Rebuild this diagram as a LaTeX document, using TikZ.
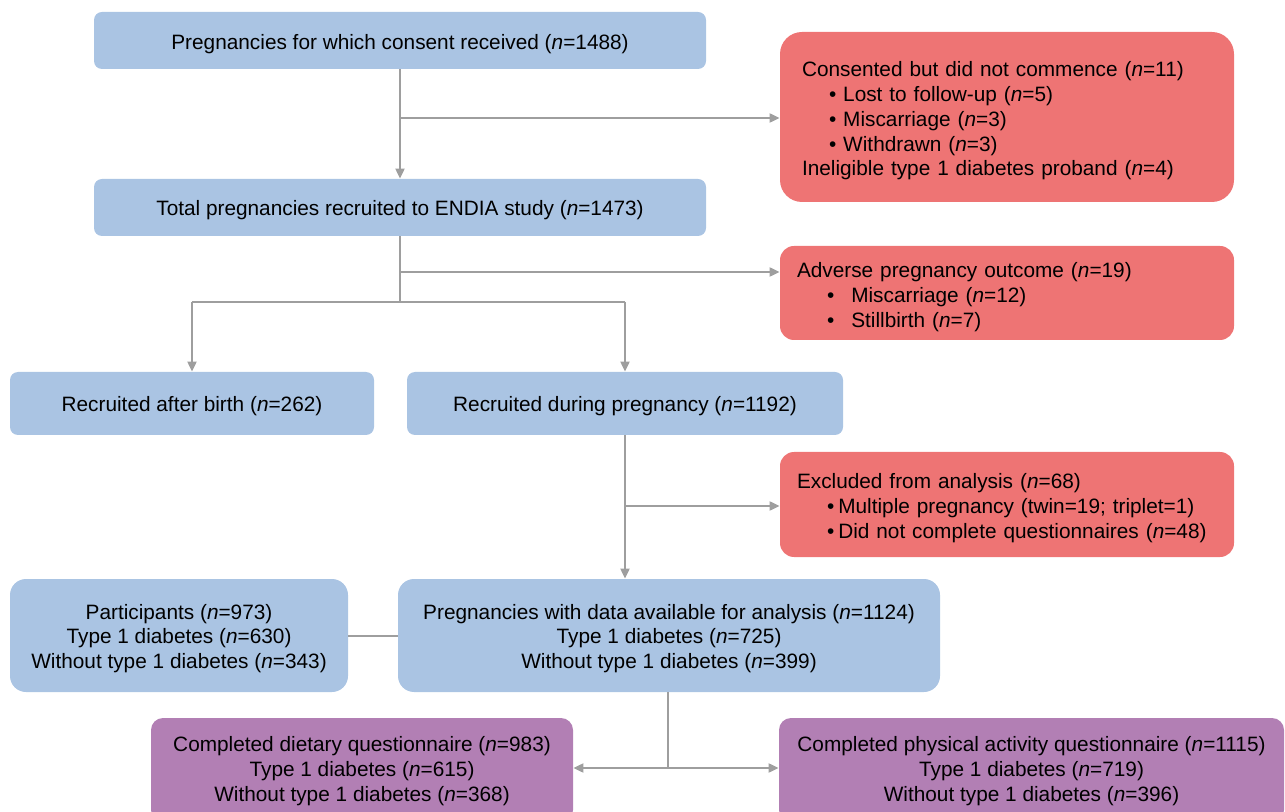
\documentclass[tikz,border=0pt]{standalone}
\usepackage{fontspec}
\setmainfont{Liberation Sans}
\usetikzlibrary{arrows.meta}
\definecolor{bluebox}{RGB}{170,196,227}
\definecolor{redbox}{RGB}{238,116,116}
\definecolor{purplebox}{RGB}{178,127,180}
\definecolor{linegray}{RGB}{158,158,158}
\begin{document}
\begin{tikzpicture}[x=0.5pt,y=-0.5pt,
  every node/.style={font=\fontsize{10.4}{12.4}\selectfont, inner sep=0pt},
  bbox/.style={fill=bluebox, rounded corners=4pt},
  bigbox/.style={fill=bluebox, rounded corners=8pt},
  rbox/.style={fill=redbox, minimum width=227pt},
  pbox/.style={fill=purplebox, rounded corners=6pt},
  ctext/.style={align=center},
  ltext/.style={align=left},
  conn/.style={draw=linegray, line width=1pt},
  arr/.style={conn, -{Triangle[length=5pt,width=4.5pt]}},
  darr/.style={conn, {Triangle[length=5pt,width=4.5pt]}-{Triangle[length=5pt,width=4.5pt]}}
]
\useasboundingbox (0,0) rectangle (1285,812);

% boxes
\node[bbox, minimum width=306pt, minimum height=28.5pt] (A) at (400,40.5) {};
\node[bbox, minimum width=306pt, minimum height=28.5pt] (B) at (400,207.5) {};
\node[rbox, rounded corners=11pt, minimum height=85pt] (R1) at (1007,117) {};
\node[rbox, rounded corners=7pt, minimum height=47pt] (R2) at (1007,293) {};
\node[bbox, minimum width=182pt, minimum height=31.5pt] (C) at (192,403.5) {};
\node[bbox, minimum width=218pt, minimum height=31.5pt] (D) at (625,403.5) {};
\node[rbox, rounded corners=7pt, minimum height=52.5pt] (R3) at (1007,504.5) {};
\node[bigbox, minimum width=271pt, minimum height=56.5pt] (E) at (669,635.5) {};
\node[bigbox, minimum width=169pt, minimum height=56.5pt] (F) at (179,635.5) {};
\node[pbox, minimum width=211pt, minimum height=52pt] (G) at (362,770) {};
\node[pbox, minimum width=252.5pt, minimum height=52pt] (H) at (1031.5,770) {};

% texts
\node[ctext] (tA) at ([yshift=-2pt]A.center)
  {Pregnancies for which consent received (\textit{n}=1488)};
\node[ctext] (tB) at ([yshift=-1.5pt]B.center)
  {Total pregnancies recruited to ENDIA study (\textit{n}=1473)};
\node[ltext, text width=205pt] (tR1) at ([yshift=-2pt]R1.center)
  {Consented but did not commence (\textit{n}=11)\\
   \hspace*{13.5pt}\textbullet\ Lost to follow-up (\textit{n}=5)\\
   \hspace*{13.5pt}\textbullet\ Miscarriage (\textit{n}=3)\\
   \hspace*{13.5pt}\textbullet\ Withdrawn (\textit{n}=3)\\
   Ineligible type 1 diabetes proband (\textit{n}=4)};
\node[ltext, text width=210pt] (tR2) at ([yshift=-2pt]R2.center)
  {Adverse pregnancy outcome (\textit{n}=19)\\
   \hspace*{15pt}\textbullet\hspace{8.5pt}Miscarriage (\textit{n}=12)\\
   \hspace*{15pt}\textbullet\hspace{8.5pt}Stillbirth (\textit{n}=7)};
\node[ctext] (tC) at ([yshift=-1.5pt]C.center)
  {Recruited after birth (\textit{n}=262)};
\node[ctext] (tD) at ([yshift=-1.5pt]D.center)
  {Recruited during pregnancy (\textit{n}=1192)};
\node[ltext, text width=210pt] (tR3) at ([yshift=-1.75pt]R3.center)
  {Excluded from analysis (\textit{n}=68)\\
   \hspace*{15pt}\textbullet\hspace{2pt}Multiple pregnancy (twin=19; triplet=1)\\
   \hspace*{15pt}\textbullet\hspace{2pt}Did not complete questionnaires (\textit{n}=48)};
\node[ctext] (tE) at ([yshift=-1.5pt]E.center)
  {Pregnancies with data available for analysis (\textit{n}=1124)\\
   Type 1 diabetes (\textit{n}=725)\\
   Without type 1 diabetes (\textit{n}=399)};
\node[ctext] (tF) at ([yshift=-1.5pt]F.center)
  {Participants (\textit{n}=973)\\
   Type 1 diabetes (\textit{n}=630)\\
   Without type 1 diabetes (\textit{n}=343)};
\node[ctext] (tG) at ([yshift=-0.5pt]G.center)
  {Completed dietary questionnaire (\textit{n}=983)\\
   Type 1 diabetes (\textit{n}=615)\\
   Without type 1 diabetes (\textit{n}=368)};
\node[ctext] (tH) at ([yshift=-0.5pt]H.center)
  {Completed physical activity questionnaire (\textit{n}=1115)\\
   Type 1 diabetes (\textit{n}=719)\\
   Without type 1 diabetes (\textit{n}=396)};

% connectors
\coordinate (b1) at (400,118);
\coordinate (b2) at (400,272);
\coordinate (j2) at (400,302);
\coordinate (b3) at (625,506);
\coordinate (j4) at (668,768);

\draw[arr] (A.south) -- (B.north);
\draw[arr] (b1) -- (b1 -| R1.west);
\draw[conn] (B.south) -- (j2);
\draw[arr] (b2) -- (b2 -| R2.west);
\draw[conn] (j2 -| C.north) -- (j2 -| D.north);
\draw[arr] (j2 -| C.north) -- (C.north);
\draw[arr] (j2 -| D.north) -- (D.north);
\draw[arr] (D.south) -- (D.south |- E.north);
\draw[arr] (b3) -- (b3 -| R3.west);
\draw[conn] (F.east) -- (E.west);
\draw[conn] (E.south -| j4) -- (j4);
\draw[darr] (j4 -| G.east) -- (j4 -| H.west);
\end{tikzpicture}
\end{document}
